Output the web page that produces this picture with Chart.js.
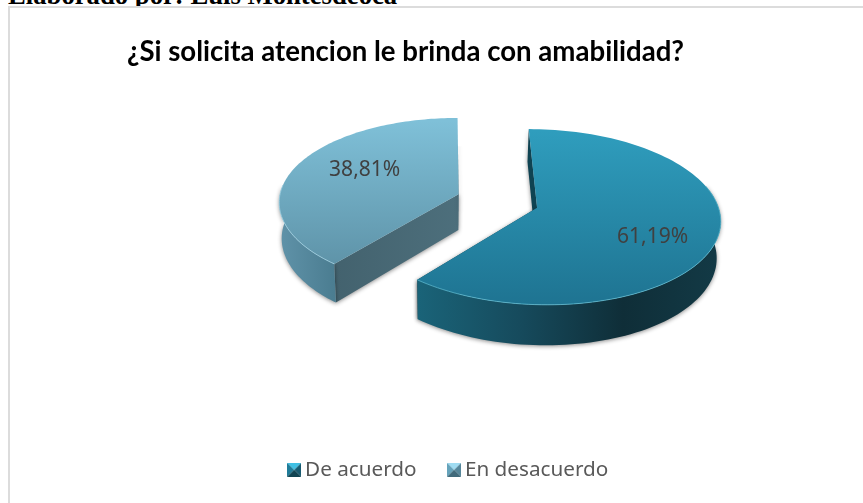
<!DOCTYPE html>
<html lang="es">
<head>
<meta charset="utf-8">
<title>Atención con amabilidad</title>
<script src="https://cdn.jsdelivr.net/npm/chart.js@4"></script>
<style>
  html, body { margin: 0; padding: 0; background: #fff; width: 863px; height: 503px; overflow: hidden; }
  #credit { position: absolute; left: 8px; top: -20px; font: bold 26.7px/30px "Liberation Serif", serif; color: #000; white-space: nowrap; }
  #frame { position: absolute; left: 8px; top: 6px; right: -4px; bottom: -4px; border: 2px solid #dcdcdc; background: #fff; }
  canvas { position: absolute; left: 0; top: 0; }
</style>
</head>
<body>
<div id="credit">Elaborado por: Luis Montesdeoca</div>
<div id="frame"></div>
<canvas id="chart" width="863" height="503"></canvas>
<script>
const categories = ['De acuerdo', 'En desacuerdo'];
const shares = [61.19, 38.81];
const shareLabels = ['61,19%', '38,81%'];

// Tilted-disc projection: unit-radius pie plane seen in perspective
const view = { x0: 448, y0: 201, fx: 180, fy: 85.5, q: 0.103, depth: 36, shrink: 0.015, centerA: 0.275, explode: 0.23 };

function project(a, b, z) {
  const w = 1 - view.q * b;
  return {
    x: view.x0 + view.fx * a * (1 - view.shrink * z) / w,
    y: view.y0 + view.fy * b / w + view.depth * z / w
  };
}

const skins = [
  {
    top: ['#2f9dbd', '#1e7391'], topSpan: [131, 307], rim: 'rgba(95,190,212,0.75)',
    wall: [[0, '#1a6479'], [0.35, '#164a5c'], [0.68, '#0f2e38'], [1, '#133a46']], wallSpan: [415, 721],
    cut: '#0f4352', marker: ['#3fc0e4', '#1f7c99', '#175a70', '#114452'], hiddenEndWall: false
  },
  {
    top: ['#7fc0d8', '#5f94a9'], topSpan: [121, 263], rim: 'rgba(165,215,232,0.75)',
    wall: [[0, '#5f92a8'], [1, '#4b7d91']], wallSpan: [281, 334],
    cut: ['#43626e', '#4d6f7c'], marker: ['#9fdcf2', '#65a3bb', '#55869a', '#416a7b'], hiddenEndWall: true
  }
];

function tracePolyline(ctx, pts, move) {
  pts.forEach((p, i) => { (i === 0 && move) ? ctx.moveTo(p.x, p.y) : ctx.lineTo(p.x, p.y); });
}

function drawWedge(ctx, arc, index) {
  const skin = skins[index];
  const t0 = arc.startAngle + Math.PI / 2;
  const t1 = arc.endAngle + Math.PI / 2;
  const mid = (t0 + t1) / 2;
  const ca = view.centerA + view.explode * Math.sin(mid);
  const cb = -view.explode * Math.cos(mid);
  const steps = 120;
  const angleAt = i => t0 + (t1 - t0) * i / steps;
  const rimAt = z => {
    const pts = [];
    for (let i = 0; i <= steps; i++) {
      const t = angleAt(i);
      pts.push(project(ca + Math.sin(t), cb - Math.cos(t), z));
    }
    return pts;
  };
  // only the part of the rim that faces the viewer gets a wall and a highlight
  const facing = pts => pts.filter((p, i) => cb - Math.cos(angleAt(i)) > -0.2);
  const hub = project(ca, cb, 0);
  const hubLow = project(ca, cb, 1);
  const rimTop = rimAt(0);
  const rimLow = rimAt(1);

  ctx.save();
  ctx.shadowColor = 'rgba(0,0,0,0.45)';
  ctx.shadowBlur = 4;
  ctx.shadowOffsetY = 1;

  // flat cut walls at both ends of the wedge
  [[rimTop[0], rimLow[0], false], [rimTop[steps], rimLow[steps], skin.hiddenEndWall]].forEach(([up, low, lowerOnly]) => {
    ctx.save();
    if (lowerOnly) {
      ctx.beginPath();
      ctx.rect(0, low.y - 4, 863, 503);
      ctx.clip();
    }
    if (Array.isArray(skin.cut)) {
      const g = ctx.createLinearGradient(up.x, 0, hub.x, 0);
      g.addColorStop(0, skin.cut[0]);
      g.addColorStop(1, skin.cut[1]);
      ctx.fillStyle = g;
    } else {
      ctx.fillStyle = skin.cut;
    }
    ctx.beginPath();
    ctx.moveTo(hub.x, hub.y);
    ctx.lineTo(up.x, up.y);
    ctx.lineTo(low.x, low.y);
    ctx.lineTo(hubLow.x, hubLow.y);
    ctx.closePath();
    ctx.fill();
    ctx.restore();
  });

  // curved outer wall
  const wallGrad = ctx.createLinearGradient(skin.wallSpan[0], 0, skin.wallSpan[1], 0);
  skin.wall.forEach(s => wallGrad.addColorStop(s[0], s[1]));
  ctx.fillStyle = wallGrad;
  ctx.beginPath();
  tracePolyline(ctx, facing(rimTop), true);
  tracePolyline(ctx, facing(rimLow).reverse(), false);
  ctx.closePath();
  ctx.fill();
  ctx.restore();

  // top face
  const topGrad = ctx.createLinearGradient(0, skin.topSpan[0], 0, skin.topSpan[1]);
  topGrad.addColorStop(0, skin.top[0]);
  topGrad.addColorStop(1, skin.top[1]);
  ctx.fillStyle = topGrad;
  ctx.beginPath();
  ctx.moveTo(hub.x, hub.y);
  tracePolyline(ctx, rimTop, false);
  ctx.closePath();
  ctx.fill();

  // soft light catching the front rim
  ctx.strokeStyle = skin.rim;
  ctx.lineWidth = 1;
  ctx.beginPath();
  tracePolyline(ctx, facing(rimTop), true);
  ctx.stroke();
}

function drawShareLabel(ctx, arc, index) {
  const placement = [{ r: 0.65, dy: 9 }, { r: 0.57, dy: -8 }][index];
  const mid = (arc.startAngle + arc.endAngle) / 2 + Math.PI / 2;
  const ca = view.centerA + view.explode * Math.sin(mid);
  const cb = -view.explode * Math.cos(mid);
  const p = project(ca + placement.r * Math.sin(mid), cb - placement.r * Math.cos(mid), 0);
  ctx.save();
  ctx.font = '21px "Noto Sans", sans-serif';
  ctx.fillStyle = '#404040';
  ctx.textAlign = 'center';
  ctx.textBaseline = 'middle';
  ctx.fillText(shareLabels[index], p.x, p.y + placement.dy);
  ctx.restore();
}

const tiltedPie = {
  id: 'tiltedPie',
  beforeDatasetsDraw(chart) {
    const ctx = chart.ctx;
    const arcs = chart.getDatasetMeta(0).data;
    arcs.forEach((arc, i) => drawWedge(ctx, arc, i));
    arcs.forEach((arc, i) => drawShareLabel(ctx, arc, i));
    return false;
  }
};

function bevelMarker(colors) {
  const size = 14;
  const c = document.createElement('canvas');
  c.width = size; c.height = size;
  const g = c.getContext('2d');
  const tri = (color, pts) => {
    g.fillStyle = color;
    g.beginPath();
    pts.forEach((p, i) => i ? g.lineTo(p[0], p[1]) : g.moveTo(p[0], p[1]));
    g.closePath();
    g.fill();
  };
  const m = size / 2;
  tri(colors[1], [[0, 0], [m, m], [0, size]]);
  tri(colors[2], [[size, 0], [m, m], [size, size]]);
  tri(colors[3], [[0, size], [m, m], [size, size]]);
  tri(colors[0], [[0, 0], [size, 0], [m, m]]);
  return c;
}

new Chart(document.getElementById('chart'), {
  type: 'pie',
  data: {
    labels: categories,
    datasets: [{ data: shares, backgroundColor: skins.map(s => s.top[0]), borderWidth: 0 }]
  },
  plugins: [tiltedPie],
  options: {
    responsive: false,
    animation: false,
    events: [],
    layout: { padding: { left: 127, right: 88, top: 36, bottom: 13 } },
    plugins: {
      tooltip: { enabled: false },
      title: {
        display: true,
        text: '¿Si solicita atencion le brinda con amabilidad?',
        align: 'start',
        color: '#000',
        font: { family: 'Lato', size: 27.6, weight: 'bold' },
        padding: { top: 0, bottom: 10 }
      },
      legend: {
        position: 'bottom',
        labels: {
          color: '#595959',
          font: { family: '"Noto Sans"', size: 20.7 },
          usePointStyle: true,
          boxWidth: 1,
          padding: 37,
          generateLabels: () => categories.map((text, i) => ({
            text,
            pointStyle: bevelMarker(skins[i].marker),
            fontColor: '#595959',
            lineWidth: 0,
            strokeStyle: 'transparent',
            hidden: false,
            datasetIndex: 0,
            index: i
          }))
        }
      }
    }
  }
});
</script>
</body>
</html>
